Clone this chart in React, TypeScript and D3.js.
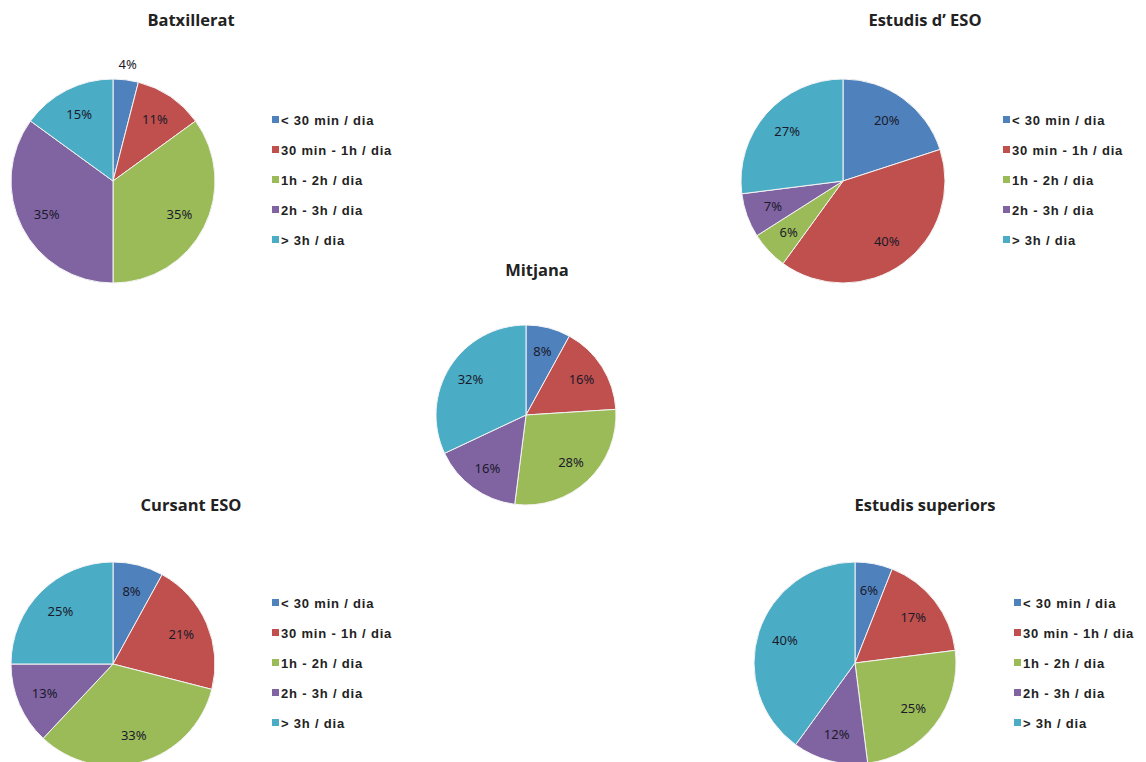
import React from "react";
import * as d3 from "d3";

const categories = [
  "< 30 min / dia",
  "30 min - 1h / dia",
  "1h - 2h / dia",
  "2h - 3h / dia",
  "> 3h / dia",
];
const sliceColors = ["#4F81BD", "#C0504D", "#9BBB59", "#8064A2", "#4BACC6"];

const batxillerat = [4, 11, 35, 35, 15];
const estudisESO = [20, 40, 6, 7, 27];
const mitjana = [8, 16, 28, 16, 32];
const cursantESO = [8, 21, 33, 13, 25];
const estudisSuperiors = [6, 17, 25, 12, 40];

interface IPanel {
  title: string;
  values: number[];
  cx: number;
  cy: number;
  r: number;
  titleX: number;
  titleY: number;
  legendX: number | null;
  legendY: number;
}

const panels: IPanel[] = [
  { title: "Batxillerat", values: batxillerat, cx: 113, cy: 181, r: 102, titleX: 191, titleY: 26, legendX: 272, legendY: 120 },
  { title: "Estudis d\u2019 ESO", values: estudisESO, cx: 843, cy: 181, r: 102, titleX: 925, titleY: 26, legendX: 1003, legendY: 120 },
  { title: "Mitjana", values: mitjana, cx: 526, cy: 415, r: 90, titleX: 537, titleY: 276, legendX: null, legendY: 0 },
  { title: "Cursant ESO", values: cursantESO, cx: 113, cy: 664, r: 102, titleX: 191, titleY: 511, legendX: 272, legendY: 603 },
  { title: "Estudis superiors", values: estudisSuperiors, cx: 855, cy: 663, r: 101, titleX: 925, titleY: 511, legendX: 1014, legendY: 603 },
];

const pie = d3.pie<number>().sort(null).value((d) => d);

function Pie({ p }: { p: IPanel }) {
  const arc = d3.arc<d3.PieArcDatum<number>>().innerRadius(0).outerRadius(p.r);
  const inner = d3
    .arc<d3.PieArcDatum<number>>()
    .innerRadius(p.r * 0.73)
    .outerRadius(p.r * 0.73);
  const outer = d3
    .arc<d3.PieArcDatum<number>>()
    .innerRadius(p.r * 1.15)
    .outerRadius(p.r * 1.15);
  const arcs = pie(p.values);
  return (
    <g>
      <text
        x={p.titleX}
        y={p.titleY}
        textAnchor="middle"
        fontFamily="'Open Sans', sans-serif"
        fontWeight="bold"
        fontSize={16.5}
        fill="#222"
      >
        {p.title}
      </text>
      <g transform={`translate(${p.cx},${p.cy})`}>
        {arcs.map((a, i) => (
          <path key={i} d={arc(a)!} fill={sliceColors[i]} stroke="#f4f4f4" strokeWidth={1} />
        ))}
        {arcs.map((a, i) => {
          const [x, y] = (a.data < 5 ? outer : inner).centroid(a);
          return (
            <text
              key={"l" + i}
              x={x}
              y={y}
              dy="0.35em"
              textAnchor="middle"
              fontFamily="'Noto Sans', sans-serif"
              fontSize={13}
              fill="#1a1a2a"
            >
              {a.data}%
            </text>
          );
        })}
      </g>
      {p.legendX !== null &&
        categories.map((c, i) => (
          <g key={c} transform={`translate(${p.legendX},${p.legendY + i * 30})`}>
            <rect x={0} y={-4} width={7} height={7} fill={sliceColors[i]} />
            <text
              x={9}
              y={0}
              dy="0.35em"
              fontFamily="'Liberation Sans', Arial, sans-serif"
              fontWeight="bold"
              fontSize={13}
              letterSpacing={0.8}
              fill="#222"
            >
              {c}
            </text>
          </g>
        ))}
    </g>
  );
}

export default function App() {
  return (
    <svg
      width={1146}
      height={762}
      style={{ position: "absolute", left: 0, top: 0, background: "#fff" }}
    >
      <rect width={1146} height={762} fill="#fff" />
      {panels.map((p) => (
        <Pie key={p.title} p={p} />
      ))}
    </svg>
  );
}
